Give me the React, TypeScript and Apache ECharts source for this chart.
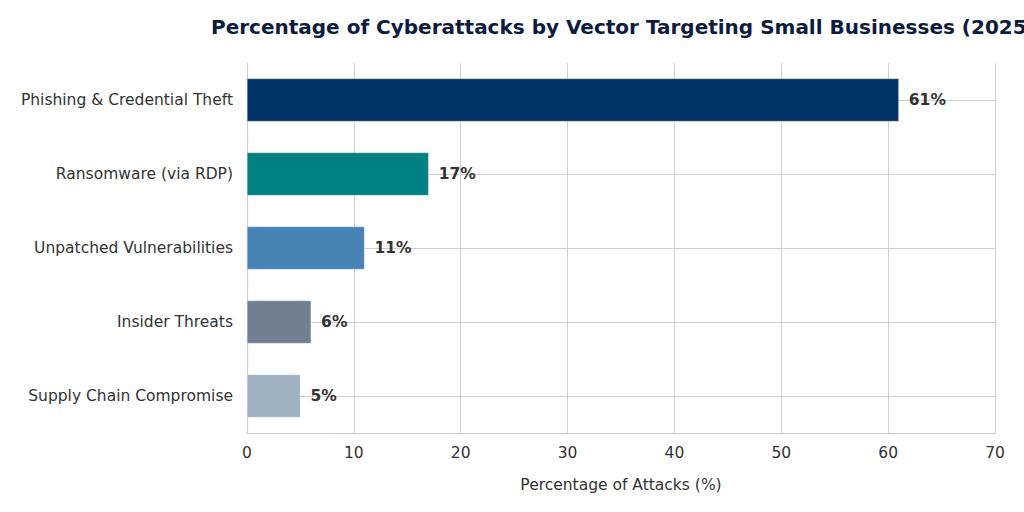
import { useEffect, useRef } from 'react'
import * as echarts from 'echarts'

// 数据
const categories = [
  'Phishing & Credential Theft',
  'Ransomware (via RDP)',
  'Unpatched Vulnerabilities',
  'Insider Threats',
  'Supply Chain Compromise'
]
const values = [61, 17, 11, 6, 5]
const barColors = ['#023366', '#008080', '#4682b4', '#708090', '#a0b1c2']
const xTicks = [0, 10, 20, 30, 40, 50, 60, 70]

const FONT = 'DejaVu Sans'
const FS = 15.5

const App: React.FC = () => {
  const chartRef = useRef<HTMLDivElement | null>(null)

  useEffect(() => {
    if (chartRef.current === null) return
    const chart = echarts.init(chartRef.current, undefined, { renderer: 'svg' })
    chart.setOption({
      animation: false,
      backgroundColor: '#ffffff',
      textStyle: { fontFamily: FONT },
      title: {
        text: 'Percentage of Cyberattacks by Vector Targeting Small Businesses (2025)',
        left: 206,
        top: 12,
        textStyle: { fontFamily: FONT, fontSize: 20, fontWeight: 'bold', color: '#0d1b3e' }
      },
      grid: { left: 247, right: 29, top: 63, bottom: 79, containLabel: false },
      xAxis: {
        type: 'value',
        min: xTicks[0],
        max: xTicks[xTicks.length - 1],
        interval: 10,
        name: 'Percentage of Attacks (%)',
        nameLocation: 'middle',
        nameGap: 44,
        nameTextStyle: { fontFamily: FONT, fontSize: FS, color: '#333333' },
        axisLine: { show: true, lineStyle: { color: '#cccccc', width: 1.2 } },
        axisTick: { show: false },
        axisLabel: { fontFamily: FONT, fontSize: FS, color: '#333333', margin: 12 },
        splitLine: { show: true, lineStyle: { color: '#d0d0d0', width: 1 } }
      },
      yAxis: {
        type: 'category',
        data: categories,
        inverse: true,
        axisLine: { show: true, lineStyle: { color: '#cccccc', width: 1.2 } },
        axisTick: { show: false },
        axisLabel: { fontFamily: FONT, fontSize: FS, color: '#333333', margin: 14 },
        splitLine: { show: true, alignWithLabel: true, lineStyle: { color: '#d0d0d0', width: 1 } }
      },
      series: [
        {
          type: 'bar',
          barWidth: 43,
          data: values.map((v, i) => ({ value: v, itemStyle: { color: barColors[i] } })),
          itemStyle: { borderColor: 'rgba(255,255,255,0.6)', borderWidth: 0.5 },
          label: {
            show: true,
            position: 'right',
            distance: 10,
            formatter: '{c}%',
            fontFamily: FONT,
            fontSize: FS,
            fontWeight: 'bold',
            color: '#333333'
          }
        }
      ]
    })
    return () => {
      chart.dispose()
    }
  }, [])

  return (
    <div
      ref={chartRef}
      style={{ position: 'fixed', left: 0, top: 0, width: 1024, height: 512 }}
    ></div>
  )
}

export default App
